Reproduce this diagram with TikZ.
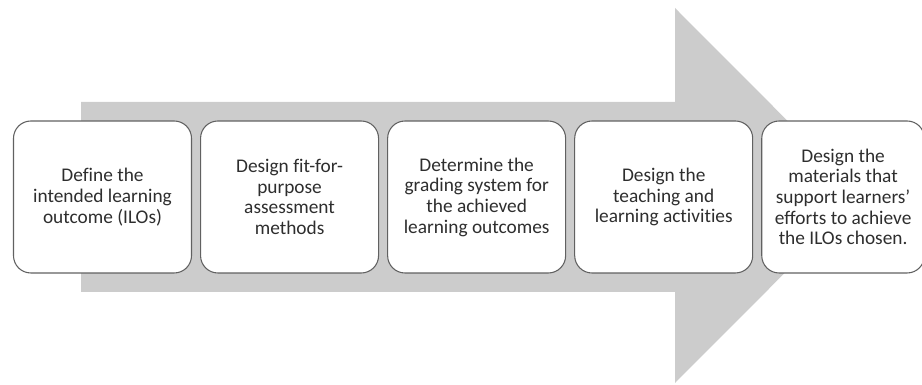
\documentclass[tikz,border=0pt]{standalone}
\usepackage{fontspec}
\setmainfont[Ligatures=NoCommon]{Carlito}
\usetikzlibrary{positioning}

\begin{document}
\begin{tikzpicture}[
        %We set the unit and define some styles
        x=0.75pt, y=0.75pt,
        big arrow/.style={fill=black!20, draw=none},
        stage/.style={draw=black!62, line width=0.8pt, fill=white,
            rounded corners=13pt, minimum width=133.5pt, minimum height=114pt,
            inner sep=2pt, align=center, text=black!82,
            font=\fontsize{14.5}{15.5}\selectfont},
        every node/.style={color=black!82},
    ]
    \useasboundingbox (0,0) rectangle (922,385);
    % Important coordinates are defined
    \coordinate (tail top) at (81,283);
    \coordinate (tail bottom) at (81,93);
    \coordinate (neck top) at (675,283);
    \coordinate (neck bottom) at (675,93);
    \coordinate (head top) at (675,377);
    \coordinate (head bottom) at (675,2);
    \coordinate (tip) at (862,189.5);

    % the arrow behind the stages
    \fill[big arrow] (tail top) -- (neck top) -- (head top) -- (tip)
        -- (head bottom) -- (neck bottom) -- (tail bottom) -- cycle;

    % the stages
    \node[stage] (ilo) at (102.5,188)
        {Define the\\intended learning\\outcome (ILOs)};
    \node[stage, right=6pt of ilo] (assess)
        {Design fit-for-\\purpose\\assessment\\methods};
    \node[stage, right=6pt of assess] (grade)
        {Determine the\\grading system for\\the achieved\\learning outcomes};
    \node[stage, right=6pt of grade] (teach)
        {Design the\\teaching and\\learning activities};
    \node[stage, minimum width=122pt, right=6pt of teach] (material)
        {Design the\\materials that\\support learners'\\efforts to achieve\\the ILOs chosen.};
\end{tikzpicture}
\end{document}
